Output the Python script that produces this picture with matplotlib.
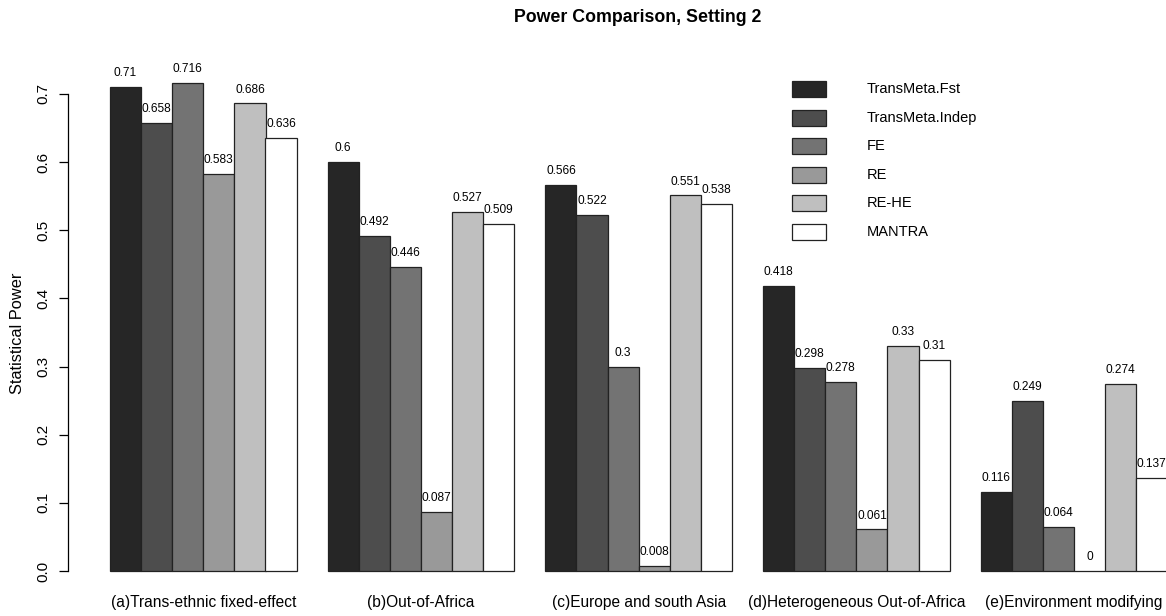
import matplotlib
matplotlib.use("Agg")
import matplotlib.pyplot as plt
from matplotlib.patches import Rectangle
import numpy as np

plt.rcParams['font.family'] = ['Liberation Sans', 'DejaVu Sans']

categories = ["(a)Trans-ethnic fixed-effect", "(b)Out-of-Africa", "(c)Europe and south Asia",
              "(d)Heterogeneous Out-of-Africa", "(e)Environment modifying"]
methods = ["TransMeta.Fst", "TransMeta.Indep", "FE", "RE", "RE-HE", "MANTRA"]
fst = [0.71, 0.6, 0.566, 0.418, 0.116]
indep = [0.658, 0.492, 0.522, 0.298, 0.249]
fe = [0.716, 0.446, 0.3, 0.278, 0.064]
re = [0.583, 0.087, 0.008, 0.061, 0]
rehe = [0.686, 0.527, 0.551, 0.33, 0.274]
mantra = [0.636, 0.509, 0.538, 0.31, 0.137]
series = [fst, indep, fe, re, rehe, mantra]
colors = ["#262626", "#4d4d4d", "#737373", "#999999", "#bfbfbf", "#ffffff"]
yticks = [0.0, 0.1, 0.2, 0.3, 0.4, 0.5, 0.6, 0.7]

W, H = 1166, 616
fig = plt.figure(figsize=(W / 100, H / 100), dpi=100)
px_per_unit = 31.1
x_left_px = 68
y0_px = 571
px_per_y = 681.5
ax_h_px = 0.8 * px_per_y
ax = fig.add_axes([x_left_px / W, (H - y0_px) / H, (W - x_left_px) / W, ax_h_px / H])
u_left = 1 - (110 - x_left_px) / px_per_unit
u_right = u_left + (W - x_left_px) / px_per_unit
ax.set_xlim(u_left, u_right)
ax.set_ylim(0, 0.8)

nser = len(series)
for i, (vals, col, name) in enumerate(zip(series, colors, methods)):
    xs = np.arange(len(categories)) * (nser + 1) + 1 + i
    ax.bar(xs, vals, width=1.0, align='edge', color=col, edgecolor='#222222',
           linewidth=0.9, label=name, clip_on=False)
    for x, v in zip(xs, vals):
        ax.annotate('{:g}'.format(v), (x + 0.5, v), xytext=(0, 10), textcoords='offset points',
                    ha='center', va='center', fontsize=8.6, annotation_clip=False)

centers = np.arange(len(categories)) * (nser + 1) + 1 + nser / 2
ax.set_xticks(centers)
ax.set_xticklabels(categories, fontsize=11.2)
ax.tick_params(axis='x', length=0, pad=17)
ax.set_yticks(yticks)
ax.set_yticklabels(['{:.1f}'.format(t) for t in yticks], rotation=90, va='center', fontsize=11)
ax.tick_params(axis='y', length=6.5, width=0.9, pad=6)
for s in ['top', 'right', 'bottom']:
    ax.spines[s].set_visible(False)
ax.spines['left'].set_bounds(0, 0.7)
ax.spines['left'].set_linewidth(0.9)
ax.patch.set_visible(False)

fig.text(18 / W, 1 - 333 / H, "Statistical Power", rotation=90, ha='center', va='center', fontsize=11.8)
fig.text(638 / W, 1 - 18 / H, "Power Comparison, Setting 2", ha='center', va='center',
         fontsize=12.8, fontweight='bold')

# legend (manual, R style, no frame)
row0 = 89
rowstep = 28.6
for k, (name, col) in enumerate(zip(methods, colors)):
    yc = row0 + k * rowstep
    r = Rectangle((792 / W, 1 - (yc + 8) / H), 34 / W, 16 / H, transform=fig.transFigure,
                  facecolor=col, edgecolor='#222222', linewidth=0.9)
    fig.add_artist(r)
    fig.text(867 / W, 1 - yc / H, name, ha='left', va='center', fontsize=10.5)

fig.savefig("out.png", dpi=100)
